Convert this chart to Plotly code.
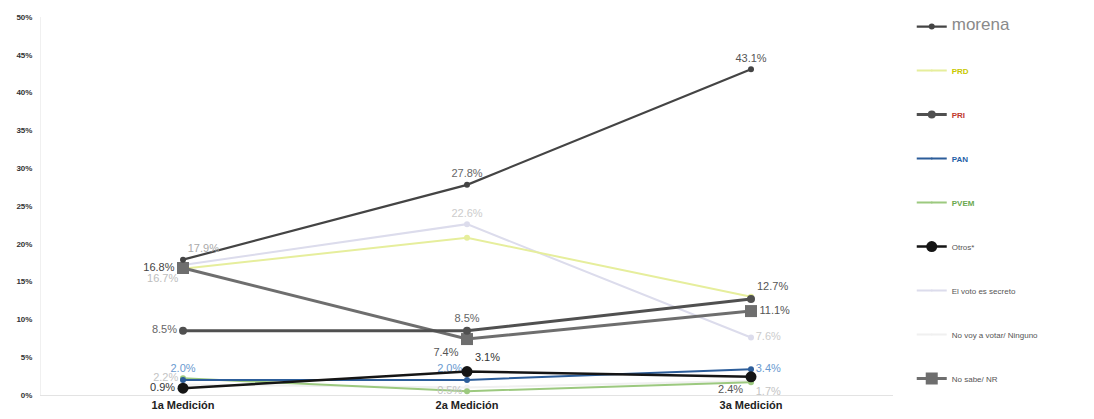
import plotly.graph_objects as go

categories = ["1a Medición", "2a Medición", "3a Medición"]

morena = [17.9, 27.8, 43.1]
prd = [16.7, 20.8, 13.0]
pri = [8.5, 8.5, 12.7]
pan = [2.0, 2.0, 3.4]
verde = [2.2, 0.5, 1.7]
otros = [0.9, 3.1, 2.4]
voto_secreto = [17.2, 22.6, 7.6]
no_voy = [1.4, 1.0, 1.9]
no_sabe = [16.8, 7.4, 11.1]

y_ticks = [0, 5, 10, 15, 20, 25, 30, 35, 40, 45, 50]
y_tick_labels = ["0%", "5%", "10%", "15%", "20%", "25%", "30%", "35%", "40%", "45%", "50%"]


def labels(vals, show):
    return [f"{v:.1f}%" if s else "" for v, s in zip(vals, show)]


series = [
    dict(name='<span style="font-size:17px;color:#8a8a8a">morena</span>', y=morena, color="#444444", width=2.2,
         msize=6, symbol="circle", show=[True, True, True], tcolor=["#aaaaaa", "#666666", "#555555"],
         tpos=["top right", "top center", "top center"], tsize=11),
    dict(name='<b style="color:#c8c800">PRD</b>', y=prd, color="#e6ee9c", width=2,
         msize=0, symbol="circle", show=[True, False, False], tcolor=["#bdbdbd"] * 3,
         tpos=["bottom left", "top center", "top center"], tsize=11),
    dict(name='<b style="color:#c0392b">PRI</b>', y=pri, color="#505050", width=3,
         msize=8, symbol="circle", show=[True, True, True], tcolor=["#666666", "#666666", "#555555"],
         tpos=["middle left", "top center", "top right"], tsize=11),
    dict(name='<b style="color:#1f5fa8">PAN</b>', y=pan, color="#2c5d9a", width=2,
         msize=0, symbol="circle", show=[True, True, True], tcolor=["#6a9ad0"] * 3,
         tpos=["top center", "top left", "middle right"], tsize=11),
    dict(name='<b style="color:#6aa84f">PVEM</b>', y=verde, color="#9cc97f", width=2,
         msize=0, symbol="circle", show=[True, True, True], tcolor=["#c4c4c4"] * 3,
         tpos=["middle left", "middle left", "bottom right"], tsize=11),
    dict(name="Otros*", y=otros, color="#151515", width=2.5,
         msize=11, symbol="circle", show=[True, True, True], tcolor=["#333333", "#333333", "#555555"],
         tpos=["middle left", "top right", "bottom left"], tsize=11),
    dict(name="El voto es secreto", y=voto_secreto, color="#dcdcec", width=2,
         msize=0, symbol="circle", show=[False, True, True], tcolor=["#cccccc"] * 3,
         tpos=["top center", "top center", "middle right"], tsize=11),
    dict(name="No voy a votar/ Ninguno", y=no_voy, color="#f0f0f0", width=2,
         msize=0, symbol="circle", show=[False, False, False], tcolor=["#dddddd"] * 3,
         tpos=["top center"] * 3, tsize=11),
    dict(name="No sabe/ NR", y=no_sabe, color="#6e6e6e", width=3,
         msize=12, symbol="square", show=[True, True, True], tcolor=["#444444", "#555555", "#555555"],
         tpos=["middle left", "bottom left", "middle right"], tsize=11),
]

fig = go.Figure()
draw_order = [7, 6, 1, 4, 3, 8, 2, 5, 0]
for i in draw_order:
    s = series[i]
    fig.add_trace(go.Scatter(
        x=categories, y=s["y"], name=s["name"],
        mode="lines+markers+text",
        line=dict(color=s["color"], width=s["width"]),
        marker=dict(size=s["msize"], symbol=s["symbol"], color=s["color"]),
        text=labels(s["y"], s["show"]),
        textposition=s["tpos"],
        textfont=dict(size=s["tsize"], color=s["tcolor"], family="Liberation Sans"),
        legendrank=i + 1,
        legendgroup=f"g{i}",
        cliponaxis=False,
    ))

fig.update_layout(
    width=1094, height=419,
    margin=dict(l=33, r=209, t=9, b=32, autoexpand=False),
    plot_bgcolor="white", paper_bgcolor="white",
    font=dict(family="Liberation Sans", color="#333333"),
    showlegend=True,
    legend=dict(x=1.022, y=1.013, xanchor="left", yanchor="top",
                font=dict(size=8, color="#555555"), tracegroupgap=25,
                itemwidth=30, bgcolor="rgba(0,0,0,0)", maxheight=430),
    xaxis=dict(type="category", range=[-0.5, 2.5], showgrid=False, showline=True,
               linecolor="#e3e3e3", linewidth=1, ticks="", automargin=False,
               tickfont=dict(size=11, color="#222222", family="Liberation Sans", weight="bold")),
    yaxis=dict(range=[0, 50], tickvals=y_ticks, ticktext=y_tick_labels, showgrid=False,
               zeroline=False, showline=True, linecolor="#f0f0f0", automargin=False,
               ticklabelstandoff=6,
               tickfont=dict(size=8, color="#333333", family="Liberation Sans", weight="bold")),
)

fig.write_html("out.html")
